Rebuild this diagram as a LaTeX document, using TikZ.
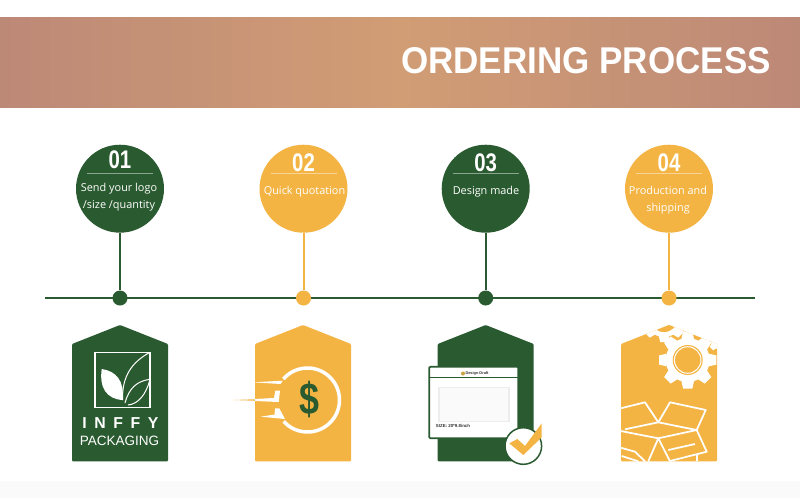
\documentclass[tikz,border=0pt]{standalone}
\usepackage{fontspec}
\setmainfont{Liberation Sans}
\newfontfamily\numfont[FakeStretch=0.8]{Liberation Sans}
\newfontfamily\titlefont[FakeStretch=0.94]{Liberation Sans}
\newfontfamily\stepfont{Open Sans}
\newfontfamily\logofont[LetterSpace=48]{Liberation Sans}
\definecolor{leafgreen}{HTML}{2A5A30}
\definecolor{honey}{HTML}{F3B443}
\definecolor{bandedge}{HTML}{BD8977}
\definecolor{bandmid}{HTML}{D19D75}
\tikzset{
	bubble/.style={circle,fill=#1,minimum size=1.76cm,inner sep=0pt},
	dotmark/.style={circle,fill=#1,minimum size=0.3cm,inner sep=0pt},
	stepnum/.style={text=white,font=\numfont\bfseries\fontsize{14.5}{14.5}\selectfont},
	steptext/.style={text=white,anchor=base,font=\stepfont\fontsize{6.2}{7}\selectfont},
	boxline/.style={draw=white,line width=0.035cm,line join=round}
}
% one hanging tag, x of its centre and its colour
\newcommand{\hangtag}[2]{
	\fill[#2,rounded corners=0.02cm] (#1-48,344) -- (#1,325) -- (#1+48,344) -- (#1+48,461.3) -- (#1-48,461.3) -- cycle;
}
% white gear wheel: centre x, centre y, tip radius, body radius
\newcommand{\gearwheel}[4]{
	\fill[white] (#1,#2) circle[radius=#4];
	\foreach \a in {0,45,...,315}{
		\fill[white] ({#1+(#4-1)*cos(\a)-0.22*#3*sin(\a)},{#2+(#4-1)*sin(\a)+0.22*#3*cos(\a)})
			-- ({#1+#3*cos(\a)-0.16*#3*sin(\a)},{#2+#3*sin(\a)+0.16*#3*cos(\a)})
			-- ({#1+#3*cos(\a)+0.16*#3*sin(\a)},{#2+#3*sin(\a)-0.16*#3*cos(\a)})
			-- ({#1+(#4-1)*cos(\a)+0.22*#3*sin(\a)},{#2+(#4-1)*sin(\a)-0.22*#3*cos(\a)}) -- cycle;
	}
}
\begin{document}
\begin{tikzpicture}[x=0.02cm,y=-0.02cm]
	\useasboundingbox (0,0) rectangle (800,498);
	\fill[white] (0,0) rectangle (800,498);
	\fill[black!2] (0,481) rectangle (800,498);

	% title band
	\shade[left color=bandedge,right color=bandedge,middle color=bandmid] (0,17) rectangle (800,107.5);
	\node (title) at (586,61) [text=white,font=\titlefont\bfseries\fontsize{21.2}{22}\selectfont]{ORDERING PROCESS};

	% time line with the four steps
	\coordinate (lineL) at (45,298);
	\coordinate (lineR) at (755,298);
	\draw[leafgreen,line width=0.04cm] (lineL) -- (lineR);
	\foreach \n/\x/\col in {01/120/leafgreen, 02/303.5/honey, 03/485.7/leafgreen, 04/669/honey}{
		\node (circ\n) at (\x,188.7) [bubble=\col]{};
		\node (dot\n) at (\x,298) [dotmark=\col]{};
		\draw[\col,line width=0.04cm] (circ\n) -- (dot\n);
		\coordinate (ruleL\n) at (\x-33,173.7);
		\coordinate (ruleR\n) at (\x+33,173.7);
		\draw[white,opacity=0.45,line width=0.025cm] (ruleL\n) -- (ruleR\n);
	}
	\node (num01) at (120,160) [stepnum]{01};
	\node (num02) at (303.5,163) [stepnum]{02};
	\node (num03) at (485.7,163) [stepnum]{03};
	\node (num04) at (669,163) [stepnum]{04};
	\node (text01a) at (119,191) [steptext]{Send your logo};
	\node (text01b) at (119,208.5) [steptext]{/size /quantity};
	\node (text02a) at (304.5,194) [steptext]{Quick quotation};
	\node (text03a) at (486,194) [steptext]{Design made};
	\node (text04a) at (668,194) [steptext]{Production and};
	\node (text04b) at (668,211.6) [steptext]{shipping};

	% tag 1, logo
	\hangtag{120}{leafgreen}
	\draw[white,line width=0.025cm] (95,352.3) rectangle (150,407.3);
	\fill[white] (101.7,369) .. controls (116,371) and (125,381) .. (122.3,400) .. controls (107,399) and (99,388) .. (101.7,369) -- cycle;
	\draw[white,line width=0.02cm] (122.5,400) .. controls (122,376) and (132,362) .. (150,352.3);
	\draw[white,line width=0.02cm] (125,403) .. controls (129,388) and (137,381) .. (150,379.3);
	\draw[white,line width=0.02cm] (150,379.3) .. controls (146,395) and (138,404) .. (128,405);
	\node (brand) at (120.5,423) [text=white,font=\logofont\bfseries\fontsize{9}{9}\selectfont]{INFFY};
	\node (packaging) at (119.5,441) [text=white,font=\fontsize{7.7}{8}\selectfont]{PACKAGING};

	% tag 2, coin in motion
	\hangtag{303}{honey}
	\draw[white,line width=0.07cm] plot[domain=-139:138,samples=50,smooth] ({307.5+32*cos(\x)},{400+32*sin(\x)});
	\fill[honey] (233.3,400) -- (262,399) -- (262,401) -- cycle;
	\begin{scope}
		\clip (255,344) rectangle (351,461);
		\fill[white] (233.3,400) -- (274,398) -- (275.3,390.7) -- (280,390.7) -- (278.7,402) -- cycle;
		\fill[white] (253.3,382.3) -- (282.7,380.7) -- (280.7,384) -- cycle;
		\fill[white] (260.7,416.7) -- (274.5,414.5) -- (275,408.3) -- (279.3,408.3) -- (285,419) -- cycle;
	\end{scope}
	\node (dollar) at (309.3,400) [text=leafgreen,font=\numfont\bfseries\fontsize{25.5}{26}\selectfont]{\$};

	% tag 3, draft sheet
	\hangtag{485.7}{leafgreen}
	\draw[leafgreen,fill=white,rounded corners=0.02cm,line width=0.035cm] (429.3,366.7) rectangle (518.3,438.3);
	\coordinate (sheetL) at (429.3,377.5);
	\coordinate (sheetR) at (518.3,377.5);
	\draw[leafgreen,line width=0.035cm] (sheetL) -- (sheetR);
	\draw[black!7,fill=black!2,line width=0.025cm] (439,387.7) rectangle (509,421.7);
	\fill[honey!80!leafgreen] (463,373.5) circle[radius=2];
	\node (draft) at (477,373.7) [text=black!80,font=\bfseries\fontsize{2.2}{3}\selectfont]{Design Draft};
	\node (size) at (453,426) [text=black!80,font=\bfseries\fontsize{2.5}{3}\selectfont]{SIZE: 20*9.8inch};
	\draw[leafgreen,fill=white,line width=0.03cm] (523.3,446) circle[radius=18.3];
	\fill[honey] (509.3,443.3) -- (517.3,439) -- (525,446) -- (541.7,423.3) -- (541.7,437.3) -- (523.3,455) -- cycle;

	% tag 4, gears and open box
	\hangtag{669}{honey}
	\begin{scope}
		\clip (621,344) -- (669,325) -- (717,344) -- (717,461.3) -- (621,461.3) -- cycle;
		\gearwheel{664}{318}{24}{19}
		\fill[honey] (664,318) circle[radius=14];
		\gearwheel{722}{338}{15}{12}
		\gearwheel{687.7}{360}{28.7}{22}
	\end{scope}
	\fill[honey] (687.7,360) circle[radius=15];
	\draw[white,line width=0.02cm] (687.7,360) circle[radius=13.3];
	\draw[boxline] (620.7,408.3) -- (645,402.3) -- (658.3,422.3) -- (670,402.3) -- (705.7,410) -- (696.7,430);
	\draw[boxline] (625,429.3) -- (658.3,422.3) -- (696.7,430) -- (658.3,438.3) -- (620.7,431);
	\draw[boxline] (696.7,430) -- (706.7,451.7) -- (670,461);
	\draw[boxline] (648.3,461.3) -- (658.3,438.3) -- (670,461.3);
	\draw[boxline] (620.7,447.7) -- (635,451.7) -- (645,461.3);
	\draw[boxline] (668.3,450) -- (695,444);
	\draw[boxline] (621.7,456) -- (638.3,461.3);
	\draw[boxline] (696.7,455) -- (696.7,461.3);
\end{tikzpicture}
\end{document}
